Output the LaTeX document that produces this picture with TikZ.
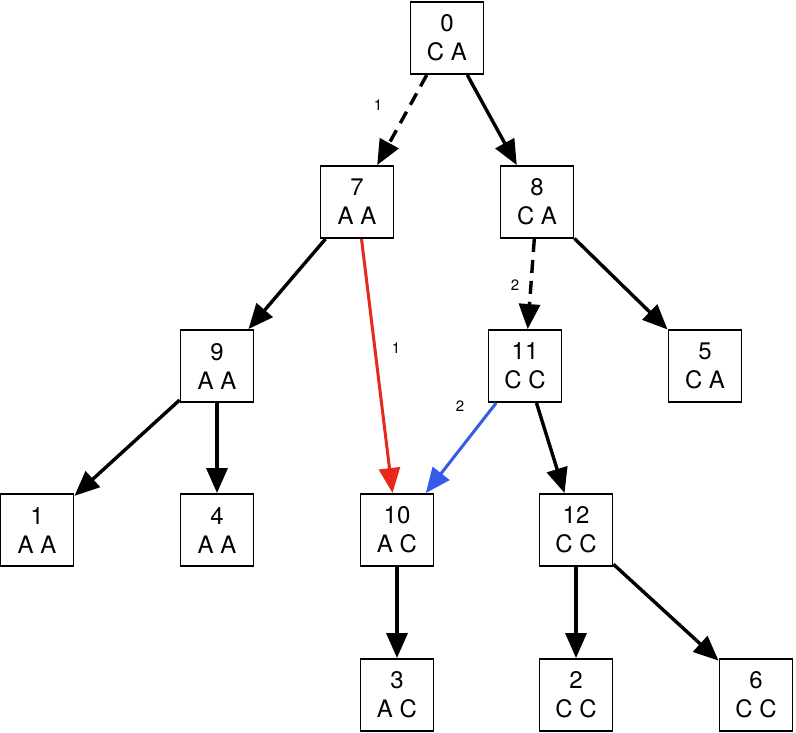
\documentclass[tikz,border=0pt]{standalone}
\usepackage{fontspec}
\setmainfont{TeX Gyre Heros}
\usetikzlibrary{arrows.meta}

\begin{document}
\begin{tikzpicture}[x=1pt,y=-1pt,
  box/.style={draw,line width=1.9pt,minimum width=73pt,minimum height=72pt,inner sep=0pt,align=center,font=\fontsize{24}{29}\selectfont},
  edge/.style={-{Triangle[length=25pt,width=21pt]},line width=3.4pt},
  lbl/.style={font=\fontsize{15}{17}\selectfont}]
\useasboundingbox (0,0) rectangle (796,732);
% rows of the tree
\node[box] (n0) at (447,38) {0\\C A};
\node[box] (n7) at (357,202) {7\\A A};
\node[box] (n8) at (537,202) {8\\C A};
\node[box] (n9) at (217,366) {9\\A A};
\node[box] (n11) at (525,366) {11\\C C};
\node[box] (n5) at (705,366) {5\\C A};
\node[box] (n1) at (37,530) {1\\A A};
\node[box] (n4) at (217,530) {4\\A A};
\node[box] (n10) at (397,530) {10\\A C};
\node[box] (n12) at (576,530) {12\\C C};
\node[box] (n3) at (397,695) {3\\A C};
\node[box] (n2) at (576,695) {2\\C C};
\node[box] (n6) at (756,695) {6\\C C};
% edges
\draw[edge,dash pattern=on 13pt off 8pt] (n0) -- (n7);
\draw[edge] (n0) -- (n8);
\draw[edge] (n7) -- (n9);
\draw[edge,dash pattern=on 13pt off 8pt] (n8) -- (n11);
\draw[edge] (n8) -- (n5);
\draw[edge] (n9) -- (n1);
\draw[edge] (n9) -- (n4);
\draw[edge] (n11) -- (n12);
\draw[edge] (n10) -- (n3);
\draw[edge] (n12) -- (n2);
\draw[edge] (n12) -- (n6);
\draw[edge,line width=3pt,color={rgb,255:red,232;green,40;blue,28}] (n7) -- (n10);
\draw[edge,line width=3pt,color={rgb,255:red,52;green,92;blue,232}] (n11) -- (n10);
% labels
\node[lbl] (l1) at (378,105) {1};
\node[lbl] (l2) at (396,348) {1};
\node[lbl] (l3) at (515,285) {2};
\node[lbl] (l4) at (460,406) {2};
\end{tikzpicture}
\end{document}
